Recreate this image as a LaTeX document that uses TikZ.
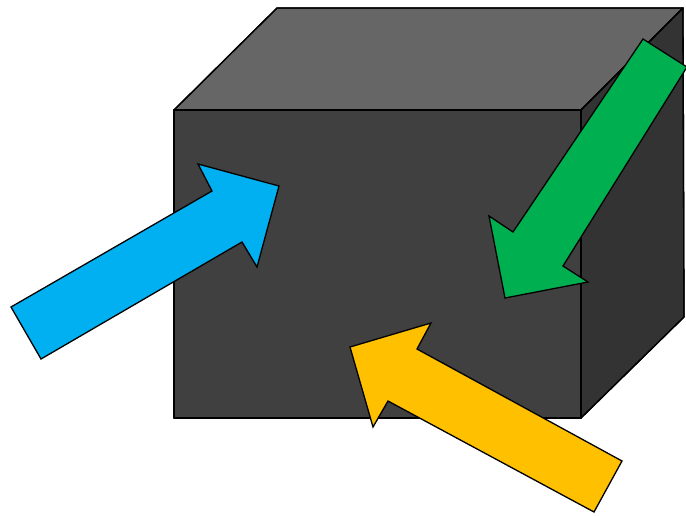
\documentclass[tikz,border=0pt]{standalone}
\usepackage{xcolor}
\usepackage{tikz}

\definecolor{frontgray}{HTML}{404040}
\definecolor{topgray}{HTML}{666666}
\definecolor{sidegray}{HTML}{333333}
\definecolor{arrblue}{HTML}{00B0F0}
\definecolor{arrgreen}{HTML}{00B050}
\definecolor{arryellow}{HTML}{FFC000}

\begin{document}
\begin{tikzpicture}[x=1pt, y=-1pt,
    face/.style={draw=black, line width=1.3pt, line join=round},
    bigarrow/.style={draw=black, line width=1.3pt, line join=miter}]
    \useasboundingbox (0,0) rectangle (686,515);
    % cube
    \coordinate (ftl) at (174,110);
    \coordinate (ftr) at (581,110);
    \coordinate (fbr) at (581,418);
    \coordinate (fbl) at (174,418);
    \coordinate (btl) at (277,8);
    \coordinate (btr) at (683,8);
    \coordinate (bbr) at (684,317);
    \fill[face, fill=topgray] (ftl) -- (btl) -- (btr) -- (ftr) -- cycle;
    \fill[face, fill=sidegray] (ftr) -- (btr) -- (bbr) -- (fbr) -- cycle;
    \fill[face, fill=frontgray] (ftl) -- (ftr) -- (fbr) -- (fbl) -- cycle;
    \draw[face] (ftl) -- (btl) -- (btr) -- (ftr) -- cycle;
    \draw[face] (ftr) -- (btr) -- (bbr) -- (fbr) -- cycle;
    \draw[face] (ftl) -- (ftr) -- (fbr) -- (fbl) -- cycle;
    % arrows
    \filldraw[bigarrow, fill=arrblue] (11,307) -- (212,191) -- (198,164) -- (279,186)
        -- (257,267) -- (242,242) -- (41,359) -- cycle;
    \filldraw[bigarrow, fill=arrgreen] (643,39) -- (687,67) -- (563,266) -- (588,282)
        -- (505,298) -- (489,216) -- (513,232) -- cycle;
    \filldraw[bigarrow, fill=arryellow] (622,461) -- (594,512) -- (388,401) -- (373,427)
        -- (350,347) -- (431,323) -- (417,349) -- cycle;
\end{tikzpicture}
\end{document}
